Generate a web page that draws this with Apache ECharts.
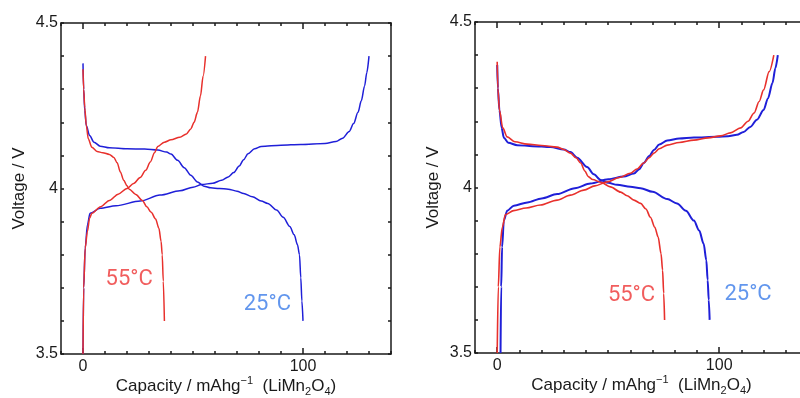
<!DOCTYPE html>
<html>
<head>
<meta charset="utf-8">
<script src="https://cdn.jsdelivr.net/npm/echarts@6/dist/echarts.min.js"></script>
<style>
  html, body { margin: 0; background: #fff; }
  #chart { width: 800px; height: 398px; }
</style>
</head>
<body>
<div id="chart"></div>
<script>
// [capacity mAh/g, voltage V]
// left panel
const left25Charge = [[0,3.5],[0.3,3.7],[1,3.82],[2,3.89],[3.2,3.925],[7.8,3.94],[15,3.948],[26,3.962],[35,3.98],[44,3.993],[50,4.004],[54,4.012],[59,4.016],[63,4.025],[66,4.035],[68.5,4.048],[71,4.068],[73,4.087],[75,4.105],[78,4.12],[81,4.127],[90,4.131],[99,4.133],[110,4.136],[115,4.142],[118,4.152],[121,4.172],[123,4.196],[125,4.23],[126.5,4.265],[128,4.31],[129,4.35],[130,4.4]];
const left25Discharge = [[0,4.378],[0.3,4.3],[0.8,4.235],[1.5,4.19],[3,4.16],[5,4.14],[7.8,4.128],[12,4.123],[20,4.12],[28,4.119],[34,4.116],[38,4.11],[40,4.104],[43,4.085],[46,4.063],[49,4.04],[52,4.02],[55,4.007],[58,4.002],[62,4.0],[66,3.998],[70,3.992],[73,3.985],[77,3.975],[81,3.962],[84,3.955],[88,3.935],[91,3.913],[94,3.885],[96,3.86],[97.5,3.83],[98.4,3.8],[99,3.73],[99.5,3.66],[100,3.6]];
const left55Charge = [[0,3.5],[0.3,3.7],[1,3.82],[2,3.87],[3,3.91],[4,3.925],[8,3.945],[12,3.964],[16,3.983],[20,4.0],[23,4.015],[26,4.033],[28.5,4.055],[30.6,4.08],[32.5,4.108],[34,4.127],[37,4.14],[40,4.147],[44,4.155],[47,4.165],[49,4.18],[50.5,4.2],[52,4.23],[53.4,4.28],[54.6,4.34],[55.7,4.4]];
const left55Discharge = [[0,4.36],[0.3,4.3],[0.8,4.245],[1.5,4.19],[2.4,4.15],[4,4.125],[6.4,4.112],[9,4.108],[12,4.103],[14,4.094],[15.5,4.078],[17,4.05],[18.5,4.025],[20,4.008],[21,3.998],[24,3.982],[27,3.964],[29,3.945],[31,3.928],[33,3.908],[34.5,3.88],[35.5,3.84],[36,3.8],[36.5,3.72],[37,3.6]];

// right panel
const right25Charge = [[1.5,3.5],[1.8,3.7],[2.2,3.82],[3,3.9],[4.5,3.93],[7.5,3.945],[13.6,3.955],[20,3.967],[27,3.98],[35,3.998],[42,4.012],[50,4.025],[57,4.033],[61.6,4.042],[64,4.055],[66,4.074],[68.5,4.095],[70.6,4.113],[73,4.13],[76.6,4.142],[82,4.148],[88.6,4.151],[99,4.153],[104,4.155],[108,4.159],[111,4.168],[114,4.183],[117,4.205],[120,4.234],[122,4.27],[124,4.316],[125.3,4.36],[126.4,4.4]];
const right25Discharge = [[0,4.37],[0.3,4.3],[1,4.234],[2,4.18],[3,4.15],[5,4.135],[9,4.128],[16,4.125],[24,4.122],[30,4.115],[33,4.107],[36,4.09],[40.5,4.062],[43.5,4.04],[46.6,4.023],[50,4.014],[54,4.008],[60,4.002],[64.6,3.998],[70,3.987],[76.6,3.965],[81,3.952],[85,3.93],[88.6,3.9],[91,3.87],[93,3.83],[94.2,3.78],[94.8,3.72],[95.3,3.66],[95.7,3.6]];
const right55Charge = [[0,3.5],[0.5,3.7],[1.2,3.82],[2.3,3.88],[3.7,3.918],[7.4,3.93],[13,3.938],[19.5,3.947],[27,3.962],[33,3.977],[39,3.992],[44,4.005],[49.6,4.017],[55,4.03],[60,4.043],[63,4.056],[66,4.074],[68.5,4.09],[70.6,4.104],[73,4.117],[76.6,4.128],[82,4.136],[88.6,4.143],[95,4.15],[100.7,4.156],[105,4.165],[109.7,4.18],[113,4.2],[115.7,4.225],[118,4.26],[120,4.295],[122.5,4.35],[124.6,4.4]];
const right55Discharge = [[0,4.38],[0.3,4.3],[1,4.234],[2.5,4.18],[4.5,4.153],[8,4.138],[13.5,4.131],[20,4.127],[27,4.122],[30,4.115],[33,4.104],[35.5,4.09],[37.6,4.074],[39.5,4.05],[41,4.033],[43,4.024],[46.6,4.016],[51,4.002],[55.6,3.986],[58.5,3.975],[61.6,3.962],[64.6,3.952],[67,3.935],[69,3.91],[71,3.88],[72.5,3.85],[73.8,3.8],[74.5,3.75],[75,3.68],[75.4,3.6]];

// temperature tags, placed in data units
const leftTags = [[21, 3.726, '55°C'], [83.8, 3.65, '25°C']];
const rightTags = [[60.5, 3.673, '55°C'], [113, 3.676, '25°C']];

const capLabels = [0, 100];
const voltLabels = [3.5, 4, 4.5];

const RED = '#e8302c';
const BLUE = '#1f1fd8';
const RED_TEXT = '#ee3535';
const BLUE_TEXT = '#3b7ce8';
const INK = '#1a1a1a';
const FONT = '"Liberation Sans", Arial, sans-serif';

const grids = [
  { left: 61, top: 23, width: 330, height: 331, outerBoundsMode: 'none' },
  { left: 475, top: 22, width: 333, height: 331, outerBoundsMode: 'none' }
];

const isLabel = (list, v) => list.some((t) => Math.abs(t - v) < 1e-6);

const xAxes = [];
const yAxes = [];
grids.forEach((g, gi) => {
  ['bottom', 'top'].forEach((pos) => {
    xAxes.push({
      type: 'value',
      gridIndex: gi,
      position: pos,
      min: -10,
      max: 140,
      interval: 10,
      name: pos === 'bottom' ? 'Capacity / mAhg{sup|−1}  (LiMn{sub|2}O{sub|4})' : '',
      nameLocation: 'middle',
      nameGap: 21,
      nameMoveOverlap: false,
      nameTextStyle: {
        color: INK,
        fontFamily: FONT,
        fontSize: 17,
        lineHeight: 22,
        rich: {
          sup: { fontSize: 11, lineHeight: 11, verticalAlign: 'top', color: INK, fontFamily: FONT },
          sub: { fontSize: 11, lineHeight: 11, verticalAlign: 'bottom', color: INK, fontFamily: FONT }
        }
      },
      axisLine: { show: true, onZero: false, lineStyle: { color: INK, width: 1.5 } },
      axisTick: { show: true, inside: true, length: 3, lineStyle: { color: INK, width: 1.5 } },
      axisLabel: {
        show: pos === 'bottom',
        margin: 5,
        color: INK,
        fontFamily: FONT,
        fontSize: 16,
        formatter: (v) => (isLabel(capLabels, v) ? String(v) : '')
      },
      splitLine: { show: false }
    });
    // longer ticks at the labelled capacities
    xAxes.push({
      type: 'value',
      gridIndex: gi,
      position: pos,
      min: -10,
      max: 140,
      axisLine: { show: false, onZero: false },
      axisTick: { show: true, inside: true, length: 6, customValues: capLabels, lineStyle: { color: INK, width: 1.5 } },
      axisLabel: { show: false },
      splitLine: { show: false }
    });
  });
  ['left', 'right'].forEach((pos) => {
    yAxes.push({
      type: 'value',
      gridIndex: gi,
      position: pos,
      min: 3.5,
      max: 4.5,
      interval: 0.1,
      name: pos === 'left' ? 'Voltage / V' : '',
      nameLocation: 'middle',
      nameGap: 33,
      nameTextStyle: { color: INK, fontFamily: FONT, fontSize: 17 },
      axisLine: { show: true, onZero: false, lineStyle: { color: INK, width: 1.5 } },
      axisTick: { show: true, inside: true, length: 3, lineStyle: { color: INK, width: 1.5 } },
      axisLabel: {
        show: pos === 'left',
        margin: 3,
        color: INK,
        fontFamily: FONT,
        fontSize: 16,
        formatter: (v) => (isLabel(voltLabels, v) ? String(v) : '')
      },
      splitLine: { show: false }
    });
  });
});

// main x axis of grid gi is 4*gi, main y axis is 2*gi
function curve(data, color, gi, width) {
  return {
    type: 'line',
    xAxisIndex: gi * 4,
    yAxisIndex: gi * 2,
    data: data,
    smooth: 0.3,
    smoothMonotone: 'x',
    showSymbol: false,
    lineStyle: { color: color, width: width },
    silent: true
  };
}

function tags(list, gi) {
  return {
    type: 'scatter',
    xAxisIndex: gi * 4,
    yAxisIndex: gi * 2,
    symbolSize: 0,
    silent: true,
    data: list.map((t) => ({
      value: [t[0], t[1]],
      label: {
        show: true,
        position: 'inside',
        formatter: t[2],
        color: t[2] === '55°C' ? RED_TEXT : BLUE_TEXT,
        fontFamily: 'Roboto, sans-serif',
        fontSize: 22
      }
    }))
  };
}

const chart = echarts.init(document.getElementById('chart'));
chart.setOption({
  animation: false,
  backgroundColor: '#fff',
  grid: grids,
  xAxis: xAxes,
  yAxis: yAxes,
  series: [
    curve(left25Charge, BLUE, 0, 1.5),
    curve(left25Discharge, BLUE, 0, 1.5),
    curve(left55Charge, RED, 0, 1.5),
    curve(left55Discharge, RED, 0, 1.5),
    curve(right25Charge, BLUE, 1, 2),
    curve(right25Discharge, BLUE, 1, 2),
    curve(right55Charge, RED, 1, 1.6),
    curve(right55Discharge, RED, 1, 1.6),
    tags(leftTags, 0),
    tags(rightTags, 1)
  ]
});
</script>
</body>
</html>
